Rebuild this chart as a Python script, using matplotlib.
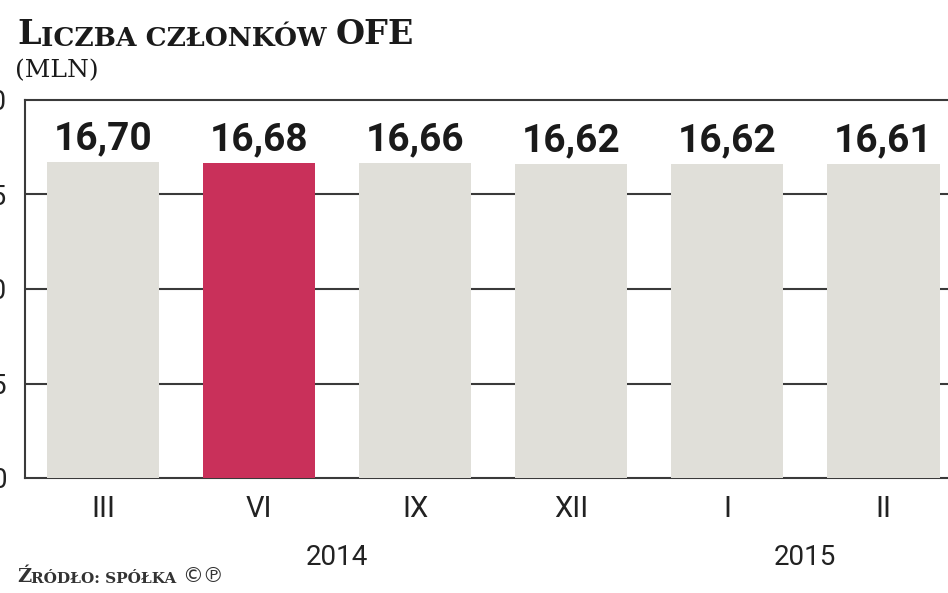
import matplotlib.pyplot as plt

# data
months = ["III", "VI", "IX", "XII", "I", "II"]
members = [16.70, 16.68, 16.66, 16.62, 16.62, 16.61]
labels = ["16,70", "16,68", "16,66", "16,62", "16,62", "16,61"]
years = ["2014", "2015"]
year_pos = [1.5, 4.5]
yticks = [0, 5, 10, 15, 20]

gray = "#E0DFD9"
red = "#C9305A"
colors = [gray, red, gray, gray, gray, gray]

sans = ["Roboto", "DejaVu Sans"]
serif = ["DejaVu Serif", "Liberation Serif"]

fig = plt.figure(figsize=(9.48, 5.93), dpi=100)
ax = fig.add_axes([25 / 948, 115 / 593, 952 / 948, 378 / 593])

x = list(range(len(months)))
ax.bar(x, members, width=0.72, color=colors, zorder=2)

ax.set_xlim(-0.5, 5.6)
ax.set_ylim(0, 20)
ax.set_yticks(yticks)
ax.set_yticklabels([str(v) for v in yticks], fontsize=20, color="#222222",
                   family=sans)
ax.set_xticks(x)
ax.set_xticklabels(months, fontsize=21, color="#222222", family=sans)
ax.tick_params(axis="y", length=0, pad=13)
ax.tick_params(axis="x", length=0, pad=12)

for v in [5, 10, 15]:
    ax.axhline(v, color="#3a3a3a", lw=1.5, zorder=1)
ax.spines["right"].set_visible(False)
for s in ["top", "left", "bottom"]:
    ax.spines[s].set_color("#3a3a3a")
    ax.spines[s].set_linewidth(1.5)
    ax.spines[s].set_zorder(1)

for xi, v, lab in zip(x, members, labels):
    ax.annotate(lab, (xi, v), xytext=(0, 3.5), textcoords="offset points",
                ha="center", va="bottom", fontsize=28, fontweight="bold",
                family=sans, color="#1a1a1a")

for yp, yr in zip(year_pos, years):
    ax.text(yp, -0.175, yr, transform=ax.get_xaxis_transform(), ha="center",
            va="top", fontsize=20, color="#222222", family=sans)

# title in small caps, built from pieces
t1 = fig.text(17 / 948, 1 - 44 / 593, "L", fontsize=24, fontweight="bold",
              family=serif, color="#1a1a1a")
t2 = ax.annotate("ICZBA CZŁONKÓW ", xy=(1, 0), xycoords=t1, va="bottom",
                 fontsize=19, fontweight="bold", family=serif, color="#1a1a1a",
                 annotation_clip=False)
ax.annotate("OFE", xy=(1, 0), xycoords=t2, va="bottom",
            fontsize=24, fontweight="bold", family=serif, color="#1a1a1a",
            annotation_clip=False)
fig.text(15 / 948, 1 - 77 / 593, "(MLN)", fontsize=18, family=serif,
         color="#1a1a1a")

s1 = fig.text(17 / 948, 1 - 582 / 593, "Ź", fontsize=14, fontweight="bold",
              family=serif, color="#333333")
s2 = ax.annotate("RÓDŁO: SPÓŁKA ", xy=(1, 0), xycoords=s1, va="bottom",
                 fontsize=11, fontweight="bold", family=serif, color="#333333",
                 annotation_clip=False)
ax.annotate("©℗", xy=(1, 0), xycoords=s2, va="bottom", fontsize=15,
            family=["DejaVu Sans"], color="#333333", annotation_clip=False)

fig.savefig("out.png", dpi=100)
